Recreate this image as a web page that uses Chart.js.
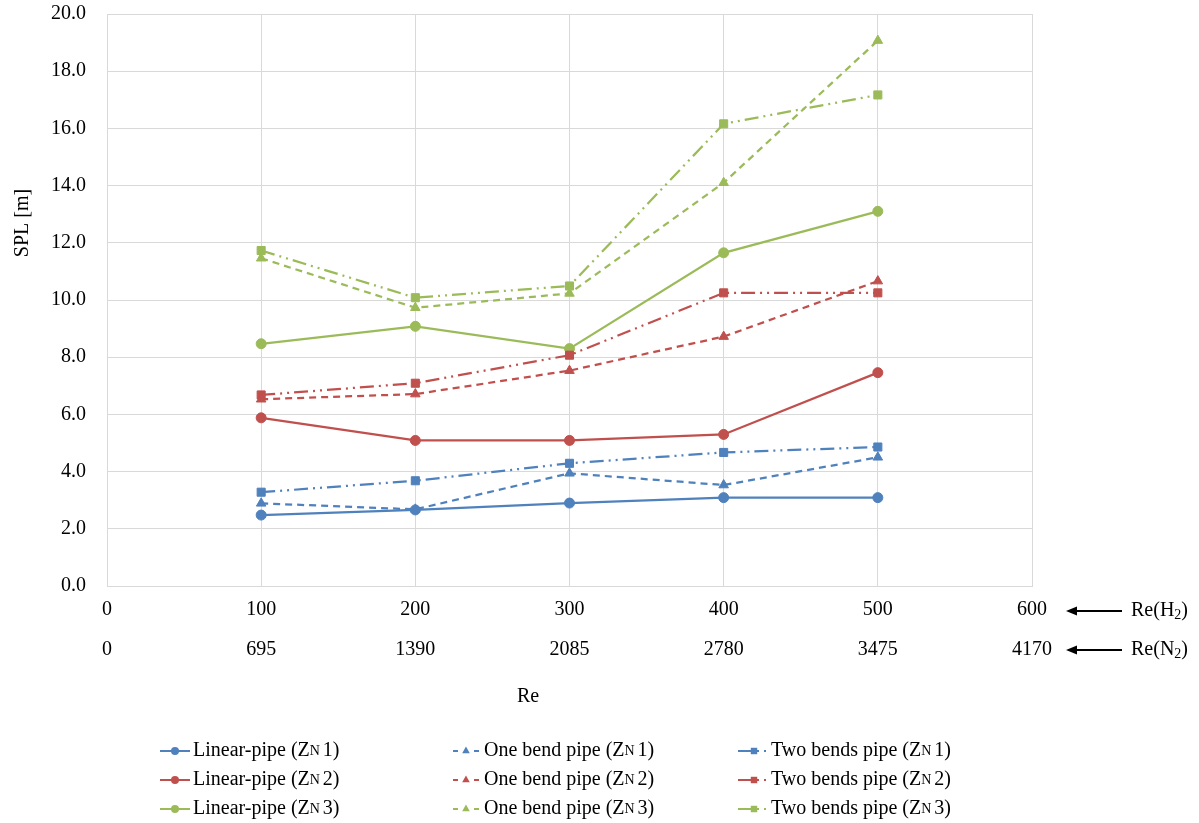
<!DOCTYPE html>
<html>
<head>
<meta charset="utf-8">
<style>
  html, body { margin: 0; padding: 0; background: #ffffff; }
  #wrap { position: relative; width: 1199px; height: 823px; }
</style>
<script src="https://cdn.jsdelivr.net/npm/chart.js@4.4.1/dist/chart.umd.min.js"></script>
</head>
<body>
<div id="wrap"><canvas id="chart" width="1199" height="823"></canvas></div>
<script>
// Reynolds numbers (hydrogen) at which SPL was measured
const reH2 = [100, 200, 300, 400, 500];
// Axis tick labels: hydrogen Re on the first row, equivalent nitrogen Re on the second
const reH2Ticks = ['0', '100', '200', '300', '400', '500', '600'];
const reN2Ticks = ['0', '695', '1390', '2085', '2780', '3475', '4170'];

// SPL [m] per pipe layout and nozzle position
const linearZN1   = [2.48, 2.66, 2.90, 3.09, 3.09];
const oneBendZN1  = [2.89, 2.68, 3.94, 3.53, 4.50];
const twoBendsZN1 = [3.28, 3.68, 4.29, 4.67, 4.86];
const linearZN2   = [5.88, 5.09, 5.09, 5.30, 7.46];
const oneBendZN2  = [6.53, 6.71, 7.53, 8.72, 10.66];
const twoBendsZN2 = [6.68, 7.09, 8.07, 10.25, 10.25];
const linearZN3   = [8.47, 9.08, 8.30, 11.65, 13.10];
const oneBendZN3  = [11.46, 9.73, 10.23, 14.10, 19.07];
const twoBendsZN3 = [11.73, 10.08, 10.49, 16.16, 17.17];

const pipeNames = ['Linear-pipe', 'One bend pipe', 'Two bends pipe'];
const zoneNames = ['1', '2', '3'];

const FONT = '"Liberation Serif", "Times New Roman", serif';
const BLUE = '#4F81BD', RED = '#C0504D', GREEN = '#9BBB59';
const zoneColors = [BLUE, RED, GREEN];

const styleByPipe = [
  { pointStyle: 'circle',   radius: 5,   dash: [] },
  { pointStyle: 'triangle', radius: 5.5, dash: [7, 5] },
  { pointStyle: 'rect',     radius: 5.7, dash: [14, 5, 2, 5, 2, 5] }
];

const seriesGrid = [
  [linearZN1, oneBendZN1, twoBendsZN1],
  [linearZN2, oneBendZN2, twoBendsZN2],
  [linearZN3, oneBendZN3, twoBendsZN3]
];

const datasets = [];
seriesGrid.forEach((row, z) => {
  row.forEach((values, p) => {
    const st = styleByPipe[p];
    datasets.push({
      label: pipeNames[p] + ' (ZN' + zoneNames[z] + ')',
      pipeName: pipeNames[p],
      zoneName: zoneNames[z],
      data: values.map((v, i) => ({ x: reH2[i], y: v })),
      borderColor: zoneColors[z],
      backgroundColor: zoneColors[z],
      borderWidth: 2.25,
      borderDash: st.dash,
      pointStyle: st.pointStyle,
      pointRadius: st.radius,
      pointHoverRadius: st.radius,
      pointBorderWidth: 1,
      pointBackgroundColor: zoneColors[z],
      pointBorderColor: zoneColors[z],
      tension: 0,
      fill: false
    });
  });
});

function drawMarker(ctx, style, x, y, r, color) {
  ctx.save();
  ctx.fillStyle = color;
  ctx.strokeStyle = color;
  ctx.setLineDash([]);
  ctx.beginPath();
  if (style === 'circle') {
    ctx.arc(x, y, r, 0, Math.PI * 2);
  } else if (style === 'triangle') {
    const h = r * 1.5, w = r * Math.sqrt(3) / 2;
    ctx.moveTo(x, y - r);
    ctx.lineTo(x + w, y - r + h);
    ctx.lineTo(x - w, y - r + h);
    ctx.closePath();
  } else {
    const s = r * Math.SQRT1_2;
    ctx.rect(x - s, y - s, 2 * s, 2 * s);
  }
  ctx.fill();
  ctx.restore();
}

// Writes a run of text pieces; pieces flagged small are set smaller (subscript-like)
function drawRich(ctx, pieces, x, y, size) {
  let cx = x;
  pieces.forEach(pc => {
    const fs = pc.small ? Math.round(size * 0.68) : size;
    ctx.font = fs + 'px ' + FONT;
    const dy = pc.sub ? size * 0.22 : 0;
    ctx.fillText(pc.t, cx, y + dy);
    cx += ctx.measureText(pc.t).width + (pc.after || 0);
  });
  return cx;
}

const extras = {
  id: 'extras',
  afterDraw(chart) {
    const ctx = chart.ctx;
    ctx.save();
    ctx.fillStyle = '#000';
    ctx.textBaseline = 'middle';

    // Y axis title
    ctx.save();
    ctx.translate(23, 223);
    ctx.rotate(-Math.PI / 2);
    ctx.textAlign = 'center';
    ctx.font = '20px ' + FONT;
    ctx.fillText('SPL [m]', 0, 0);
    ctx.restore();

    // X axis title
    ctx.textAlign = 'center';
    ctx.font = '20px ' + FONT;
    ctx.fillText('Re', 528, 697);

    // Row indicators for the two Reynolds-number scales
    ctx.textAlign = 'left';
    const rows = [
      { y: 611, gas: 'H' },
      { y: 650, gas: 'N' }
    ];
    rows.forEach(r => {
      ctx.strokeStyle = '#000';
      ctx.lineWidth = 2;
      ctx.setLineDash([]);
      ctx.beginPath();
      ctx.moveTo(1122, r.y);
      ctx.lineTo(1074, r.y);
      ctx.stroke();
      ctx.beginPath();
      ctx.moveTo(1066, r.y);
      ctx.lineTo(1077, r.y - 4.5);
      ctx.lineTo(1077, r.y + 4.5);
      ctx.closePath();
      ctx.fill();
      drawRich(ctx, [
        { t: 'Re(' + r.gas },
        { t: '2', small: true, sub: true },
        { t: ')' }
      ], 1131, r.y, 20);
    });

    // Legend: three columns (pipe layout) by three rows (nozzle zone)
    const colX = [160, 451, 738];
    const rowY = [751, 780, 809];
    const sampleW = 30;
    chart.data.datasets.forEach((ds, i) => {
      const row = Math.floor(i / 3), col = i % 3;
      const x0 = colX[col], y = rowY[row];
      ctx.save();
      ctx.strokeStyle = ds.borderColor;
      ctx.lineWidth = 2;
      if (col === 1) {
        // short dash either side of the marker
        ctx.beginPath();
        ctx.moveTo(x0 + 2, y); ctx.lineTo(x0 + 7, y);
        ctx.moveTo(x0 + 23, y); ctx.lineTo(x0 + 28, y);
        ctx.stroke();
      } else {
        ctx.setLineDash(ds.borderDash);
        ctx.beginPath();
        ctx.moveTo(x0, y);
        ctx.lineTo(x0 + sampleW, y);
        ctx.stroke();
      }
      ctx.restore();
      const mx = col === 2 ? x0 + 16 : x0 + sampleW / 2;
      drawMarker(ctx, ds.pointStyle, mx, y, ds.pointRadius * 0.8, ds.borderColor);
      ctx.fillStyle = '#000';
      ctx.textAlign = 'left';
      drawRich(ctx, [
        { t: ds.pipeName + ' (Z' },
        { t: 'N', small: true, after: 3 },
        { t: ds.zoneName + ')' }
      ], x0 + sampleW + 3, y, 20);
    });
    ctx.restore();
  }
};

new Chart(document.getElementById('chart'), {
  type: 'line',
  data: { datasets },
  options: {
    responsive: false,
    animation: false,
    devicePixelRatio: 1,
    layout: { padding: { left: 0, top: 14, right: 167, bottom: 0 } },
    plugins: {
      legend: { display: false },
      tooltip: { enabled: false }
    },
    scales: {
      x: {
        type: 'linear',
        min: 0,
        max: 600,
        afterFit(axis) {
          axis.height = 237;
          axis.paddingLeft = 0; axis.paddingRight = 0;
          axis.paddingTop = 0; axis.paddingBottom = 0;
        },
        grid: { color: '#d9d9d9', lineWidth: 1, drawTicks: false },
        border: { color: '#d9d9d9' },
        ticks: {
          stepSize: 100,
          padding: 4,
          color: '#000',
          maxRotation: 0,
          font: { family: FONT, size: 20, lineHeight: 2 },
          callback(value) {
            const i = reH2Ticks.indexOf(String(value));
            return i < 0 ? '' : [reH2Ticks[i], reN2Ticks[i]];
          }
        }
      },
      y: {
        min: 0,
        max: 20,
        afterFit(axis) {
          axis.width = 107;
          axis.paddingTop = 0; axis.paddingBottom = 0;
          axis.paddingLeft = 0; axis.paddingRight = 0;
        },
        grid: { color: '#d9d9d9', lineWidth: 1, drawTicks: false },
        border: { color: '#d9d9d9' },
        ticks: {
          stepSize: 2,
          padding: 21,
          color: '#000',
          font: { family: FONT, size: 20 },
          callback(value) { return Number(value).toFixed(1); }
        }
      }
    }
  },
  plugins: [extras]
});
</script>
</body>
</html>
